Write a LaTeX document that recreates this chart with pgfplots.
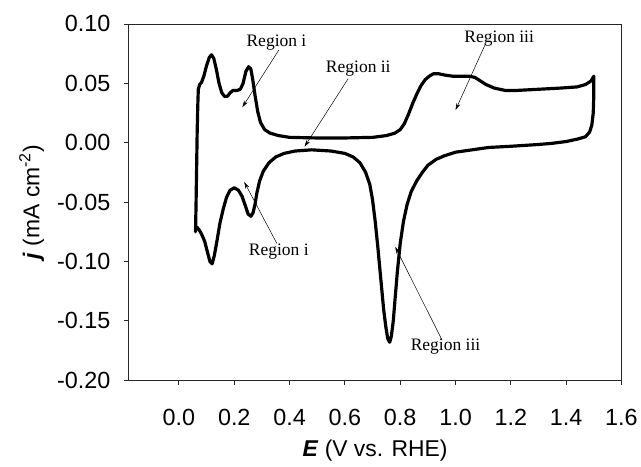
\documentclass[border=0pt]{standalone}
\usepackage{fontspec}
\setmainfont{Liberation Sans}
\newfontfamily\serif{Liberation Serif}
\usepackage{pgfplots}
\pgfplotsset{compat=1.18}
\usetikzlibrary{arrows.meta}
\begin{document}
\begin{tikzpicture}
\begin{axis}[
  scale only axis, width=493.7bp, height=357bp,
  xmin=-0.1815, xmax=1.6, ymin=-0.2, ymax=0.1,
  xtick={0,0.2,0.4,0.6,0.8,1.0,1.2,1.4,1.6},
  xticklabels={0.0,0.2,0.4,0.6,0.8,1.0,1.2,1.4,1.6},
  ytick={-0.2,-0.15,-0.1,-0.05,0,0.05,0.1},
  yticklabels={-0.20,-0.15,-0.10,-0.05,0.00,0.05,0.10},
  xtick pos=lower, ytick pos=left, tick align=outside,
  major tick length=5bp,
  every tick/.style={black!85, line width=0.9pt},
  axis line style={black!85, line width=0.9pt},
  xticklabel style={font=\fontsize{23.5}{23.5}\selectfont, yshift=-20bp,
    anchor=north, text height=17bp, text depth=0bp},
  yticklabel style={font=\fontsize{23.5}{23.5}\selectfont, xshift=-10bp},
  xlabel={\textbf{\textit{E}} (V vs. RHE)},
  ylabel={\textbf{\textit{j}} (mA cm\textsuperscript{-2})},
  label style={font=\fontsize{23}{23}\selectfont},
  xlabel style={yshift=-7bp},
  ylabel style={yshift=6bp},
  clip=false,
]
\addplot[black, line width=3.2pt, line join=round, line cap=round] coordinates {
(0.060,-0.075) (0.062,-0.050) (0.064,-0.020) (0.066,0.010) (0.068,0.030) (0.070,0.045)
(0.075,0.049) (0.082,0.051) (0.090,0.056) (0.100,0.065) (0.110,0.072) (0.118,0.074)
(0.126,0.071) (0.135,0.062) (0.145,0.050) (0.155,0.042) (0.165,0.039) (0.175,0.039)
(0.185,0.042) (0.195,0.044) (0.210,0.044) (0.222,0.045) (0.232,0.050) (0.242,0.060)
(0.252,0.064) (0.260,0.062) (0.267,0.053) (0.275,0.040) (0.285,0.026) (0.295,0.017)
(0.310,0.011) (0.330,0.008) (0.360,0.006) (0.400,0.0045) (0.500,0.004) (0.600,0.004)
(0.700,0.0045) (0.750,0.006) (0.780,0.008) (0.800,0.011) (0.815,0.016) (0.830,0.024)
(0.845,0.033) (0.860,0.041) (0.875,0.048) (0.890,0.053) (0.905,0.056) (0.920,0.058)
(0.940,0.058) (0.960,0.057) (0.990,0.056) (1.020,0.056) (1.050,0.056) (1.070,0.055)
(1.090,0.052) (1.110,0.049) (1.140,0.046) (1.180,0.044) (1.220,0.044) (1.300,0.045)
(1.380,0.046) (1.440,0.047) (1.470,0.049) (1.490,0.052) (1.500,0.056)
(1.500,0.040) (1.498,0.025) (1.493,0.015) (1.485,0.009) (1.470,0.005) (1.440,0.003)
(1.400,0.001) (1.350,-0.0005) (1.300,-0.0015) (1.200,-0.003) (1.120,-0.004) (1.060,-0.006)
(1.000,-0.008) (0.960,-0.011) (0.930,-0.014) (0.900,-0.019) (0.880,-0.025) (0.860,-0.032)
(0.840,-0.041) (0.825,-0.052) (0.812,-0.066) (0.800,-0.085) (0.790,-0.108) (0.782,-0.130)
(0.775,-0.150) (0.768,-0.163) (0.762,-0.168) (0.755,-0.165) (0.748,-0.155) (0.740,-0.140)
(0.730,-0.115) (0.720,-0.090) (0.710,-0.067) (0.700,-0.048) (0.690,-0.035) (0.675,-0.025)
(0.655,-0.017) (0.630,-0.012) (0.600,-0.009) (0.550,-0.007) (0.480,-0.006) (0.420,-0.007)
(0.380,-0.009) (0.350,-0.012) (0.325,-0.017) (0.305,-0.024) (0.292,-0.032) (0.282,-0.042)
(0.275,-0.052) (0.268,-0.059) (0.260,-0.062) (0.250,-0.060) (0.240,-0.053) (0.228,-0.045)
(0.215,-0.040) (0.200,-0.038) (0.185,-0.040) (0.172,-0.046) (0.160,-0.056) (0.148,-0.068)
(0.138,-0.082) (0.128,-0.095) (0.120,-0.102) (0.112,-0.100) (0.103,-0.092) (0.093,-0.083)
(0.082,-0.077) (0.072,-0.073) (0.064,-0.071) (0.060,-0.072)
};
\begin{scope}[font=\serif\fontsize{17.6}{17.6}\selectfont]
\node at (axis cs:0.3526,0.0840) {Region i};
\node at (axis cs:0.6485,0.0622) {Region ii};
\node at (axis cs:1.158,0.0879) {Region iii};
\node at (axis cs:0.361,-0.0919) {Region i};
\node at (axis cs:0.964,-0.1714) {Region iii};
\end{scope}
\begin{scope}[line width=0.5pt, -{Stealth[length=7bp,width=4bp]}]
\draw (axis cs:0.361,0.078) -- (axis cs:0.229,0.0298);
\draw (axis cs:0.612,0.054) -- (axis cs:0.454,-0.0034);
\draw (axis cs:1.106,0.082) -- (axis cs:1.0,0.0275);
\draw (axis cs:0.354,-0.0848) -- (axis cs:0.236,-0.033);
\draw (axis cs:0.951,-0.166) -- (axis cs:0.782,-0.0876);
\end{scope}
\end{axis}
\path (current axis.south west) ++(-129bp,-86bp) rectangle ++(641bp,467bp);
\end{tikzpicture}
\end{document}
